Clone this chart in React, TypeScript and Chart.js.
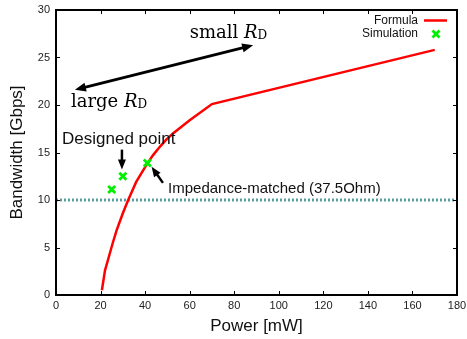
import React, { useEffect, useRef } from 'react';
import { Chart, registerables } from 'chart.js';

Chart.register(...registerables);

// ---- data ----
const formulaPower = [20.6, 22, 23.7, 25.5, 27.2, 30, 32.4, 36, 40.6, 43.5, 46.6, 49.5, 52.5, 60, 70, 170];
const formulaBandwidth = [0.5, 2.6, 4.0, 5.5, 6.8, 8.6, 10.0, 11.9, 13.7, 14.7, 15.6, 16.35, 17.0, 18.4, 20.1, 25.8];
const simPower = [25, 30, 41];
const simBandwidth = [11.1, 12.5, 13.9];
const targetPower = [0, 180];
const targetBandwidth = [10, 10];
const xTicks = [0, 20, 40, 60, 80, 100, 120, 140, 160, 180];
const yTicks = [0, 5, 10, 15, 20, 25, 30];
const seriesNames = ['Formula', 'Simulation'];

const SANS = '"Liberation Sans", Arial, Helvetica, sans-serif';
const SERIF = '"DejaVu Serif", serif';
const RED = '#ff0000';
const GREEN = '#00ee00';
const TEAL = '#5a9fa0';

function arrowHead(ctx: CanvasRenderingContext2D, x1: number, y1: number, x2: number, y2: number, len: number, half: number) {
  const ang = Math.atan2(y2 - y1, x2 - x1);
  const bx = x2 - len * Math.cos(ang);
  const by = y2 - len * Math.sin(ang);
  ctx.beginPath();
  ctx.moveTo(x2, y2);
  ctx.lineTo(bx + half * Math.sin(ang), by - half * Math.cos(ang));
  ctx.lineTo(bx - half * Math.sin(ang), by + half * Math.cos(ang));
  ctx.closePath();
  ctx.fill();
}

function arrowLine(ctx: CanvasRenderingContext2D, x1: number, y1: number, x2: number, y2: number, w: number, len: number, half: number, both: boolean) {
  const ang = Math.atan2(y2 - y1, x2 - x1);
  const sx = both ? x1 + (len - 2) * Math.cos(ang) : x1;
  const sy = both ? y1 + (len - 2) * Math.sin(ang) : y1;
  const ex = x2 - (len - 2) * Math.cos(ang);
  const ey = y2 - (len - 2) * Math.sin(ang);
  ctx.lineWidth = w;
  ctx.beginPath();
  ctx.moveTo(sx, sy);
  ctx.lineTo(ex, ey);
  ctx.stroke();
  arrowHead(ctx, x1, y1, x2, y2, len, half);
  if (both) arrowHead(ctx, x2, y2, x1, y1, len, half);
}

function drawRD(ctx: CanvasRenderingContext2D, word: string, x: number, y: number) {
  ctx.textAlign = 'left';
  ctx.textBaseline = 'alphabetic';
  ctx.font = `18px ${SERIF}`;
  ctx.fillText(word + ' ', x, y);
  let cx = x + ctx.measureText(word + ' ').width;
  ctx.font = `italic 18px ${SERIF}`;
  ctx.fillText('R', cx, y);
  cx += ctx.measureText('R').width;
  ctx.font = `12px ${SERIF}`;
  ctx.fillText('D', cx, y + 1);
}

const decorPlugin = {
  id: 'decor',
  afterDraw(chart: any) {
    const { ctx, chartArea: a, scales } = chart;
    const xs = scales.x;
    const ys = scales.y;
    const px = (v: number) => xs.getPixelForValue(v);
    const py = (v: number) => ys.getPixelForValue(v);
    ctx.save();
    ctx.strokeStyle = '#000';
    ctx.fillStyle = '#000';
    // inward ticks
    ctx.lineWidth = 1;
    ctx.beginPath();
    for (const v of xTicks) {
      const p = Math.round(px(v)) + 0.5;
      ctx.moveTo(p, a.bottom);
      ctx.lineTo(p, a.bottom - 4);
      ctx.moveTo(p, a.top);
      ctx.lineTo(p, a.top + 4);
    }
    for (const v of yTicks) {
      const p = Math.round(py(v)) + 0.5;
      ctx.moveTo(a.left, p);
      ctx.lineTo(a.left + 4, p);
      ctx.moveTo(a.right, p);
      ctx.lineTo(a.right - 4, p);
    }
    ctx.stroke();
    // frame
    ctx.lineWidth = 2;
    ctx.strokeRect(a.left, a.top, a.right - a.left, a.bottom - a.top);

    // legend
    ctx.font = `12px ${SANS}`;
    ctx.textAlign = 'right';
    ctx.textBaseline = 'middle';
    ctx.fillStyle = '#111';
    ctx.fillText(seriesNames[0], a.right - 39, a.top + 11);
    ctx.fillText(seriesNames[1], a.right - 39, a.top + 24);
    ctx.strokeStyle = RED;
    ctx.lineWidth = 2.5;
    ctx.beginPath();
    ctx.moveTo(a.right - 33, a.top + 10.5);
    ctx.lineTo(a.right - 10, a.top + 10.5);
    ctx.stroke();
    ctx.strokeStyle = GREEN;
    ctx.lineWidth = 2.8;
    const cx = a.right - 21;
    const cy = a.top + 24;
    ctx.beginPath();
    ctx.moveTo(cx - 3.5, cy - 3.5);
    ctx.lineTo(cx + 3.5, cy + 3.5);
    ctx.moveTo(cx + 3.5, cy - 3.5);
    ctx.lineTo(cx - 3.5, cy + 3.5);
    ctx.stroke();

    // annotations
    ctx.strokeStyle = '#000';
    ctx.fillStyle = '#000';
    arrowLine(ctx, px(8.5), py(21.6), px(88.5), py(26.3), 3, 11, 4.5, true);
    drawRD(ctx, 'small', px(60), py(27.1));
    drawRD(ctx, 'large', px(6.7), py(19.75));

    ctx.fillStyle = '#111';
    ctx.textAlign = 'left';
    ctx.textBaseline = 'alphabetic';
    ctx.font = `17px ${SANS}`;
    ctx.fillText('Designed point', px(2.7), py(15.9));
    ctx.font = `15px ${SANS}`;
    ctx.fillText('Impedance-matched (37.5Ohm)', px(50.3), py(10.77));
    ctx.fillStyle = '#000';
    arrowLine(ctx, px(29.6), py(15.3), px(29.6), py(13.2), 2.5, 10, 4, false);
    arrowLine(ctx, px(48), py(11.8), px(42.9), py(13.5), 2.5, 10, 4, false);
    ctx.restore();
  },
};

export default function App() {
  const ref = useRef<HTMLCanvasElement | null>(null);
  useEffect(() => {
    if (!ref.current) return;
    const chart = new Chart(ref.current, {
      type: 'scatter',
      data: {
        datasets: [
          {
            label: 'Target',
            data: targetPower.map((p, i) => ({ x: p, y: targetBandwidth[i] })),
            showLine: true,
            borderColor: TEAL,
            borderWidth: 3,
            borderDash: [2, 2],
            pointRadius: 0,
            order: 3,
          },
          {
            label: seriesNames[0],
            data: formulaPower.map((p, i) => ({ x: p, y: formulaBandwidth[i] })),
            showLine: true,
            borderColor: RED,
            borderWidth: 2.5,
            pointRadius: 0,
            order: 2,
          },
          {
            label: seriesNames[1],
            data: simPower.map((p, i) => ({ x: p, y: simBandwidth[i] })),
            showLine: false,
            pointStyle: 'crossRot',
            pointRadius: 5,
            borderColor: GREEN,
            backgroundColor: GREEN,
            pointBorderWidth: 2.8,
            order: 1,
          } as any,
        ],
      },
      options: {
        responsive: false,
        animation: false,
        layout: { padding: { left: 0, right: 10, top: 10, bottom: 0 } },
        plugins: { legend: { display: false }, tooltip: { enabled: false } },
        scales: {
          x: {
            type: 'linear',
            min: 0,
            max: 180,
            afterFit: (s: any) => { s.height = 44; s.paddingLeft = 0; s.paddingRight = 0; },
            afterBuildTicks: (s: any) => { s.ticks = xTicks.map((v) => ({ value: v })); },
            grid: { display: false, drawTicks: false },
            border: { display: false },
            ticks: { font: { size: 11, family: SANS }, color: '#222', padding: 4, maxRotation: 0, autoSkip: false },
            title: { display: true, text: 'Power [mW]', font: { size: 17, family: SANS }, color: '#111', padding: { top: 0, bottom: 2 } },
          },
          y: {
            type: 'linear',
            min: 0,
            max: 30,
            afterFit: (s: any) => { s.width = 56; s.paddingTop = 0; s.paddingBottom = 0; },
            afterBuildTicks: (s: any) => { s.ticks = yTicks.map((v) => ({ value: v })); },
            grid: { display: false, drawTicks: false },
            border: { display: false },
            ticks: { font: { size: 11, family: SANS }, color: '#222', padding: 6, autoSkip: false },
            title: { display: true, text: 'Bandwidth [Gbps]', font: { size: 17, family: SANS }, color: '#111', padding: { top: 7, bottom: 0 } },
          },
        },
      },
      plugins: [decorPlugin],
    } as any);
    return () => chart.destroy();
  }, []);
  return (
    <div style={{ position: 'fixed', left: 0, top: 0, width: 467, height: 339, background: '#fff' }}>
      <canvas ref={ref} width={467} height={339} />
    </div>
  );
}
